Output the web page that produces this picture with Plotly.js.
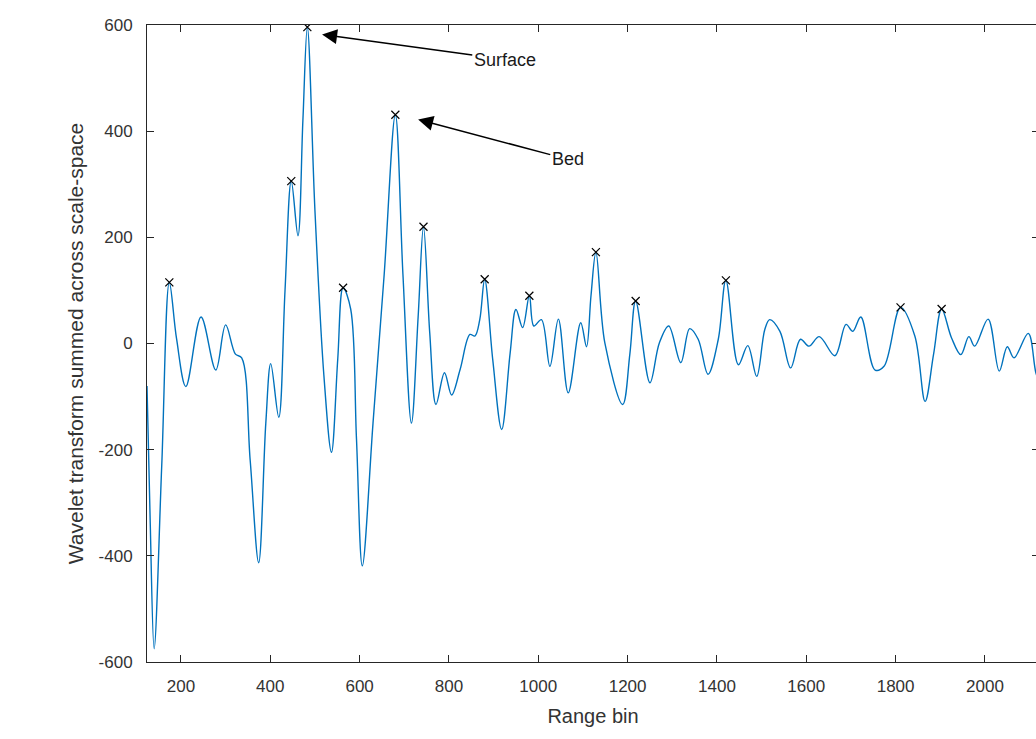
<!DOCTYPE html>
<html>
<head>
<meta charset="utf-8">
<script src="https://cdn.plot.ly/plotly-3.0.1.min.js"></script>
<style>
  html, body { margin: 0; padding: 0; background: #ffffff; overflow: hidden; width: 1036px; height: 739px; }
  #chart { width: 1042px; height: 739px; }
</style>
</head>
<body>
<div id="chart"></div>
<script>
// Range bin positions of traced curve points
const rangeBin = [124, 131, 140, 157, 174, 190, 211, 245, 278, 300, 322, 336, 355, 374, 390, 401, 419, 433, 447, 462, 473, 483,
  500, 520, 537, 551, 563, 580, 593, 606, 630, 655, 680, 697, 716, 731, 743, 757, 771, 790, 806, 825, 847, 858, 869, 880,
  898, 918, 937, 950, 965, 980, 990, 1007, 1026, 1045, 1067, 1095, 1108, 1118, 1129, 1149, 1189, 1205, 1218, 1250, 1271,
  1292, 1319, 1339, 1358, 1380, 1403, 1420, 1448, 1469, 1489, 1507, 1518, 1541, 1565, 1587, 1606, 1629, 1664, 1689, 1704,
  1722, 1754, 1774, 1811, 1843, 1866, 1885, 1903, 1925, 1946, 1964, 1977, 2007, 2032, 2050, 2065, 2097, 2114, 2125];
// Wavelet transform summed across scale-space at those bins
const waveletSum = [-80, -330, -575, -230, 115, 10, -81, 50, -50, 35, -20, -27, -220, -413, -150, -38, -139, 100, 306, 203, 420, 596,
  250, -60, -205, -30, 105, 65, -180, -419, -150, 130, 431, 130, -150, 50, 220, 20, -115, -55, -97, -49, 17, 14, 45, 121,
  -30, -162, -18, 64, 30, 90, 33, 45, -43, 46, -93, 39, -6, 90, 172, 1, -115, -20, 80, -74, 1,
  33, -36, 28, 8, -58, 8, 119, -40, -4, -62, 26, 45, 23, -46, 8, -5, 13, -23, 36, 23,
  50, -50, -43, 68, 14, -109, -20, 65, 11, -21, 13, -5, 46, -52, -6, -27, 19, -55, -80];
// Detected peaks
const peakBin = [174, 447, 483, 563, 680, 743, 880, 980, 1129, 1218, 1420, 1811, 1903];
const peakVal = [115, 306, 596, 105, 431, 220, 121, 90, 172, 80, 119, 68, 65];
// Axis ticks
const xTicks = [200, 400, 600, 800, 1000, 1200, 1400, 1600, 1800, 2000];
const yTicks = [-600, -400, -200, 0, 200, 400, 600];

const axisColor = '#262626';
const labelColor = '#333333';
const fam = 'Liberation Sans, Arial, Helvetica, sans-serif';

const traces = [
  {
    x: rangeBin, y: waveletSum, type: 'scatter', mode: 'lines',
    line: { color: '#0072BD', width: 1.4, shape: 'spline', smoothing: 1 },
    hoverinfo: 'skip', showlegend: false
  },
  {
    x: peakBin, y: peakVal, type: 'scatter', mode: 'markers',
    marker: { symbol: 'x-thin', size: 8, color: '#000000', line: { color: '#000000', width: 1.2 } },
    showlegend: false
  }
];

const layout = {
  width: 1042, height: 739,
  margin: { l: 147, r: 3, t: 25, b: 77 },
  paper_bgcolor: '#ffffff', plot_bgcolor: '#ffffff',
  font: { family: fam, color: labelColor },
  showlegend: false,
  xaxis: {
    range: [124, 2121], tickvals: xTicks, ticktext: xTicks.map(String),
    ticks: 'inside', ticklen: 7, tickwidth: 1, tickcolor: axisColor,
    showline: true, linecolor: axisColor, linewidth: 1, mirror: 'ticks',
    showgrid: false, zeroline: false,
    tickfont: { size: 17, color: labelColor, family: fam },
    ticklabelstandoff: 9,
    title: { text: 'Range bin', font: { size: 20, color: labelColor, family: fam }, standoff: 13 }
  },
  yaxis: {
    range: [-600, 600], tickvals: yTicks, ticktext: yTicks.map(String),
    ticks: 'inside', ticklen: 7, tickwidth: 1, tickcolor: axisColor,
    showline: true, linecolor: axisColor, linewidth: 1, mirror: 'ticks',
    showgrid: false, zeroline: false,
    tickfont: { size: 17, color: labelColor, family: fam },
    ticklabelstandoff: 10,
    title: { text: 'Wavelet transform summed across scale-space', font: { size: 21, color: labelColor, family: fam }, standoff: 9 }
  },
  annotations: [
    {
      x: 516, y: 582, xref: 'x', yref: 'y',
      ax: 925, ay: 535, axref: 'x', ayref: 'y',
      text: 'Surface', showarrow: true, arrowhead: 2, arrowsize: 2, arrowwidth: 1.5, arrowcolor: '#000000',
      font: { size: 18, color: '#1a1a1a', family: fam }
    },
    {
      x: 731, y: 422, xref: 'x', yref: 'y',
      ax: 1066, ay: 347, axref: 'x', ayref: 'y',
      text: 'Bed', showarrow: true, arrowhead: 2, arrowsize: 2, arrowwidth: 1.5, arrowcolor: '#000000',
      font: { size: 18, color: '#1a1a1a', family: fam }
    }
  ]
};

Plotly.newPlot('chart', traces, layout, { staticPlot: true, displayModeBar: false });
</script>
</body>
</html>
